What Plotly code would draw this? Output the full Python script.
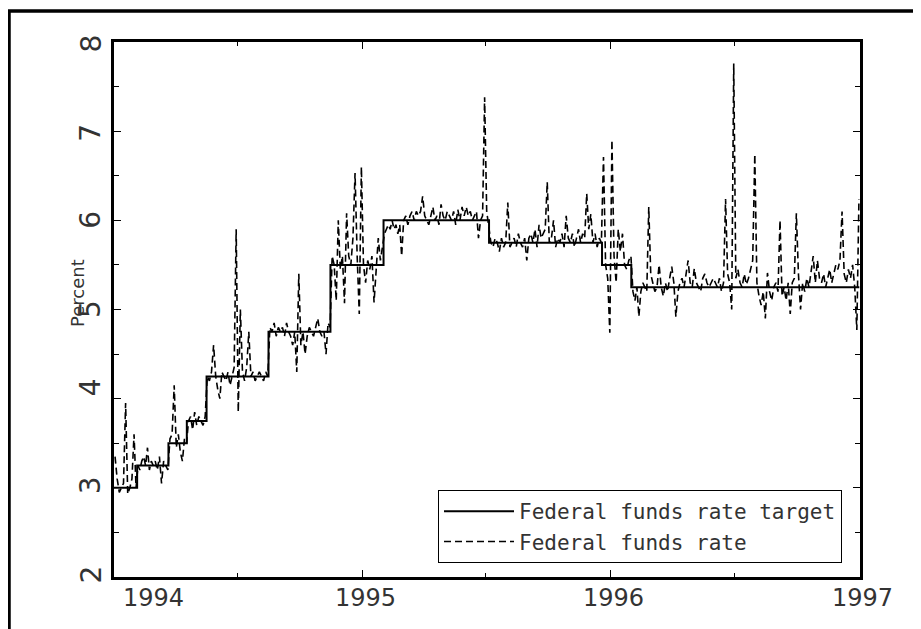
import pandas as pd
import plotly.graph_objects as go

# ---- Data ----
# Federal funds rate target: change dates and levels (step function)
target_dates = ["1994-01-01", "1994-02-04", "1994-03-22", "1994-04-18", "1994-05-17",
                "1994-08-16", "1994-11-15", "1995-02-01", "1995-07-06", "1995-12-19",
                "1996-01-31", "1996-12-31"]
target_vals = [3.00, 3.25, 3.50, 3.75, 4.25, 4.75, 5.50, 6.00, 5.75, 5.50, 5.25, 5.25]

# Federal funds rate, ten readings per month (Jan..Dec)
rate_1994 = [
    3.35, 3.10, 2.95, 3.00, 3.05, 3.95, 2.93, 3.00, 3.10, 3.60,
    3.00, 3.25, 3.20, 3.30, 3.35, 3.25, 3.45, 3.20, 3.30, 3.25,
    3.30, 3.20, 3.35, 3.05, 3.30, 3.25, 3.20, 3.55, 3.60, 4.15,
    3.45, 3.60, 3.40, 3.30, 3.55, 3.50, 3.75, 3.80, 3.65, 3.85,
    3.70, 3.80, 3.75, 3.70, 3.80, 4.25, 4.20, 4.30, 4.60, 4.25,
    4.10, 4.00, 4.30, 4.25, 4.20, 4.30, 4.15, 4.25, 4.35, 5.90,
    3.85, 5.00, 4.30, 4.20, 4.35, 4.75, 4.25, 4.30, 4.20, 4.25,
    4.30, 4.25, 4.20, 4.30, 4.25, 4.80, 4.75, 4.85, 4.70, 4.80,
    4.75, 4.80, 4.70, 4.85, 4.75, 4.70, 4.60, 4.75, 4.30, 5.40,
    4.60, 4.75, 4.50, 4.70, 4.80, 4.75, 4.70, 4.80, 4.90, 4.75,
    4.70, 4.75, 4.50, 4.85, 4.80, 5.60, 5.50, 5.10, 6.00, 5.45,
    5.60, 5.07, 6.08, 5.60, 5.50, 5.80, 6.53, 5.60, 4.95, 6.60,
]
rate_1995 = [
    5.50, 5.30, 5.55, 5.45, 5.60, 5.08, 5.50, 5.80, 5.55, 5.70,
    5.85, 5.90, 5.95, 5.90, 6.00, 5.90, 5.95, 5.85, 5.95, 5.60,
    6.00, 6.05, 5.95, 6.05, 6.10, 6.00, 6.10, 6.05, 6.10, 6.27,
    6.05, 6.00, 5.95, 6.05, 6.15, 6.00, 6.05, 5.95, 6.18, 6.05,
    6.00, 6.10, 6.05, 6.00, 6.10, 5.95, 6.12, 6.00, 6.15, 6.05,
    6.15, 6.05, 6.10, 6.00, 6.05, 6.10, 5.80, 6.00, 6.05, 7.38,
    6.10, 5.95, 5.75, 5.70, 5.80, 5.75, 5.65, 5.80, 5.70, 5.75,
    6.20, 5.70, 5.75, 5.80, 5.70, 5.85, 5.75, 5.70, 5.80, 5.55,
    5.80, 5.85, 5.75, 5.90, 5.70, 5.95, 5.80, 5.85, 5.90, 6.43,
    5.75, 5.80, 6.00, 5.70, 5.80, 5.75, 5.85, 5.70, 6.05, 5.80,
    5.75, 5.85, 5.70, 5.80, 5.90, 5.75, 5.85, 5.80, 6.30, 5.90,
    6.07, 5.75, 5.85, 5.70, 5.80, 5.75, 6.71, 5.50, 5.35, 4.74,
]
rate_1996 = [
    6.90, 5.60, 5.30, 5.90, 5.65, 5.85, 5.50, 5.45, 5.55, 5.60,
    5.20, 5.10, 5.25, 4.92, 5.20, 5.30, 5.25, 5.20, 6.15, 5.40,
    5.30, 5.20, 5.25, 5.50, 5.25, 5.15, 5.30, 5.20, 5.35, 5.48,
    5.30, 4.92, 5.20, 5.30, 5.35, 5.25, 5.40, 5.55, 5.30, 5.25,
    5.46, 5.30, 5.25, 5.20, 5.35, 5.40, 5.30, 5.25, 5.30, 5.35,
    5.30, 5.25, 5.35, 5.20, 5.30, 6.24, 5.40, 5.30, 5.00, 7.76,
    5.35, 5.45, 5.30, 5.25, 5.40, 5.28, 5.35, 5.45, 5.55, 6.74,
    5.30, 5.15, 5.05, 5.20, 4.90, 5.41, 5.20, 5.10, 5.25, 5.30,
    5.20, 6.00, 5.15, 5.25, 5.10, 5.30, 4.95, 5.30, 5.35, 6.08,
    5.40, 5.00, 5.30, 5.20, 5.35, 5.25, 5.45, 5.60, 5.30, 5.55,
    5.35, 5.30, 5.40, 5.25, 5.35, 5.45, 5.30, 5.40, 5.50, 5.45,
    5.55, 6.10, 5.40, 5.30, 5.45, 5.35, 5.50, 5.25, 4.77, 6.24,
]
years = [1994, 1995, 1996]
per_month = 10

year_ticks = ["1994-01-01", "1995-01-01", "1996-01-01", "1997-01-01"]
year_labels = ["1994", "1995", "1996", "1997"]
half_year_ticks = ["1994-07-01", "1995-07-01", "1996-07-01"]
y_ticks = [2, 3, 4, 5, 6, 7, 8]
y_minor = [2.5, 3.5, 4.5, 5.5, 6.5, 7.5]
y_range = [2, 8]

# ---- positions of the monthly readings ----
rate_dates, rate_vals = [], []
for yr, vals in zip(years, [rate_1994, rate_1995, rate_1996]):
    for m in range(12):
        start = pd.Timestamp(yr, m + 1, 1)
        nd = start.days_in_month
        for i in range(per_month):
            rate_dates.append(start + pd.Timedelta(days=(i + 0.5) * nd / per_month))
            rate_vals.append(vals[m * per_month + i])

FONT = "DejaVu Sans, sans-serif"
MONO = "DejaVu Sans Mono, monospace"
TXT = "#333333"

# plot area in screen pixels (page body adds an 8px offset)
PL, PR, PT, PB = 114, 860, 42, 577
OFF = 8
W, H = 921, 629
PW, PH = PR - PL, PB - PT


def px_x(px):
    return (px - PL) / PW


def px_y(py):
    return (PB - py) / PH


fig = go.Figure()
fig.add_trace(go.Scatter(
    x=rate_dates, y=rate_vals, mode="lines", name="Federal funds rate",
    line=dict(color="black", width=1.6, dash="7px,4px"),
))
fig.add_trace(go.Scatter(
    x=target_dates, y=target_vals, mode="lines", name="Federal funds rate target",
    line=dict(color="black", width=2, shape="hv"),
))

fig.update_layout(
    width=W, height=H,
    margin=dict(l=PL - OFF, r=W + OFF - PR, t=PT - OFF, b=H + OFF - PB),
    plot_bgcolor="white", paper_bgcolor="white",
    font=dict(family=FONT, color=TXT),
    showlegend=True,
    legend=dict(
        x=px_x(842), y=px_y(563), xanchor="right", yanchor="bottom",
        bordercolor="black", borderwidth=1, bgcolor="white",
        traceorder="reversed", font=dict(size=21, family=MONO, color=TXT),
        itemwidth=70, tracegroupgap=0,
    ),
    xaxis=dict(
        type="date", range=["1994-01-01", "1997-01-01"],
        tickmode="array", tickvals=year_ticks, showticklabels=False,
        ticks="inside", ticklen=7, tickwidth=1, tickcolor="black",
        showline=True, linewidth=2.5, linecolor="black", mirror="allticks",
        showgrid=False, zeroline=False,
        minor=dict(tickmode="array", tickvals=half_year_ticks, ticks="inside",
                   ticklen=4, tickwidth=1, tickcolor="black", showgrid=False),
    ),
    yaxis=dict(
        range=y_range, tickmode="array", tickvals=y_ticks, showticklabels=False,
        ticks="inside", ticklen=7, tickwidth=1, tickcolor="black",
        showline=True, linewidth=2.5, linecolor="black", mirror="allticks",
        showgrid=False, zeroline=False,
        minor=dict(tickmode="array", tickvals=y_minor, ticks="inside",
                   ticklen=5, tickwidth=1, tickcolor="black", showgrid=False),
    ),
    shapes=[dict(type="rect", xref="paper", yref="paper",
                 x0=px_x(9), x1=px_x(940), y0=px_y(650), y1=px_y(11),
                 line=dict(color="black", width=3.5), fillcolor="rgba(0,0,0,0)")],
)

annots = []
# x-axis year labels
shifts = [39, 3, 3, 2]
for t, lab, sh in zip(year_ticks, year_labels, shifts):
    annots.append(dict(x=t, y=px_y(598), xref="x", yref="paper", text=lab,
                       showarrow=False, xshift=sh, xanchor="center", yanchor="middle",
                       font=dict(size=24, family=FONT, color=TXT)))
# y-axis labels, rotated a quarter turn (automatic anchoring, compensated in position)
for v in y_ticks:
    frac = (v - y_range[0]) / (y_range[1] - y_range[0])
    if v <= 3:
        frac -= 9 / PH
    elif v >= 7:
        frac += 9 / PH
    annots.append(dict(x=px_x(72), y=frac, xref="paper", yref="paper",
                       text=str(v), textangle=-90, showarrow=False,
                       font=dict(size=28, family=FONT, color=TXT)))
annots.append(dict(x=px_x(77), y=px_y(293), xref="paper", yref="paper",
                   text="Percent", textangle=-90, showarrow=False,
                   xanchor="center", yanchor="middle",
                   font=dict(size=18, family=FONT, color=TXT)))
fig.update_layout(annotations=annots)

fig.write_html("out.html")
